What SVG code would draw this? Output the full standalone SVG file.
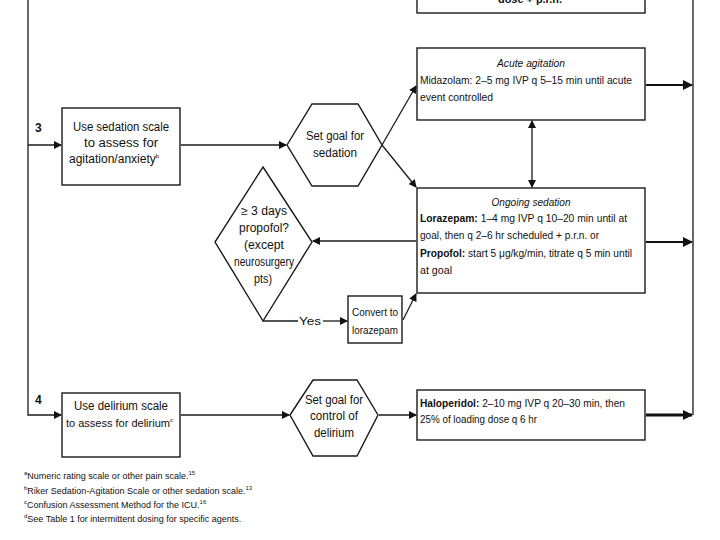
<svg xmlns="http://www.w3.org/2000/svg" width="720" height="540" viewBox="0 0 720 540">
<style>
.bg{fill:#fff}
.box{fill:#fff;stroke:#1a1a1a;stroke-width:1.4}
.t{font-family:"Liberation Sans",Arial,sans-serif;font-size:12px;fill:#111}
.s{font-family:"Liberation Sans",Arial,sans-serif;font-size:11px;fill:#111}
.c{text-anchor:middle}
.i{font-style:italic}
.b{font-weight:bold}
.ln{fill:none;stroke:#1a1a1a;stroke-width:1.3}
.th{fill:none;stroke:#111;stroke-width:2}
.fn{font-family:"Liberation Sans",Arial,sans-serif;font-size:9px;fill:#111}
.sp{font-size:6px}
</style>
<defs>
<marker id="ah" markerWidth="8" markerHeight="8" refX="7" refY="4" orient="auto" markerUnits="userSpaceOnUse">
<path d="M0,0 L8,4 L0,8 Z" fill="#111"/>
</marker>
<marker id="ahs" markerWidth="8" markerHeight="8" refX="1" refY="4" orient="auto" markerUnits="userSpaceOnUse">
<path d="M8,0 L0,4 L8,8 Z" fill="#111"/>
</marker>
<marker id="ahb" markerWidth="10" markerHeight="10" refX="9" refY="5" orient="auto" markerUnits="userSpaceOnUse">
<path d="M0,0 L10,5 L0,10 Z" fill="#111"/>
</marker>
</defs>
<rect class="bg" x="0" y="0" width="720" height="540"/>

<g id="connectors">
<path class="ln" d="M28,0 V415 H61" marker-end="url(#ah)"/>
<path class="ln" d="M28,145 H61" marker-end="url(#ah)"/>
<path class="ln" d="M693,0 V415"/>
<path class="ln" d="M181,145 H286" marker-end="url(#ah)"/>
<path class="ln" d="M382,145 L416,86" marker-end="url(#ah)"/>
<path class="ln" d="M382,145 L416,187" marker-end="url(#ah)"/>
<path class="ln" d="M532,121 V187" marker-start="url(#ahs)" marker-end="url(#ah)"/>
<path class="th" d="M646,85 H692" marker-end="url(#ahb)"/>
<path class="th" d="M646,242 H692" marker-end="url(#ahb)"/>
<path class="ln" d="M416,241 H313" marker-end="url(#ah)"/>
<path class="ln" d="M263,321 H298"/>
<path class="ln" d="M323,321 H347" marker-end="url(#ah)"/>
<text class="s c" x="310" y="325" textLength="22" lengthAdjust="spacingAndGlyphs">Yes</text>
<path class="ln" d="M403,320 L416,294" marker-end="url(#ah)"/>
<path class="ln" d="M181,415 H289" marker-end="url(#ah)"/>
<path class="ln" d="M379,415 H416" marker-end="url(#ah)"/>
<path d="M646,415 H692" fill="none" stroke="#111" stroke-width="3" marker-end="url(#ahb)"/>
</g>

<g id="top-box">
<rect class="box" x="417" y="-20" width="228" height="33"/>
<text class="s c b" x="530" y="3" textLength="64" lengthAdjust="spacingAndGlyphs">dose + p.r.n.</text>
</g>

<g id="label-3"><text class="t b" x="35" y="132">3</text></g>
<g id="label-4"><text class="t b" x="35" y="404">4</text></g>

<g id="sedation-scale">
<rect class="box" x="62" y="108" width="118" height="77"/>
<text class="t c" x="121" y="131" textLength="96" lengthAdjust="spacingAndGlyphs">Use sedation scale</text>
<text class="t c" x="121" y="147" textLength="74" lengthAdjust="spacingAndGlyphs">to assess for</text>
<text class="t" x="69" y="163">agitation/anxiety<tspan class="sp" dy="-5">b</tspan></text>
</g>

<g id="goal-sedation">
<polygon class="box" points="287,145 312,104 358,104 382,145 358,186 312,186"/>
<text class="t c" x="335" y="140" textLength="58" lengthAdjust="spacingAndGlyphs">Set goal for</text>
<text class="t c" x="335" y="157" textLength="44" lengthAdjust="spacingAndGlyphs">sedation</text>
</g>

<g id="acute-agitation">
<rect class="box" x="417" y="48" width="228" height="72"/>
<text class="s c i" x="531" y="67" textLength="68" lengthAdjust="spacingAndGlyphs">Acute agitation</text>
<text class="s" x="420" y="84" textLength="212" lengthAdjust="spacingAndGlyphs">Midazolam: 2–5 mg IVP q 5–15 min until acute</text>
<text class="s" x="420" y="101" textLength="73" lengthAdjust="spacingAndGlyphs">event controlled</text>
</g>

<g id="ongoing-sedation">
<rect class="box" x="417" y="188" width="228" height="105"/>
<text class="s c i" x="531" y="206" textLength="79" lengthAdjust="spacingAndGlyphs">Ongoing sedation</text>
<text class="s" x="420" y="222" textLength="207" lengthAdjust="spacingAndGlyphs"><tspan class="b">Lorazepam:</tspan> 1–4 mg IVP q 10–20 min until at</text>
<text class="s" x="420" y="239" textLength="179" lengthAdjust="spacingAndGlyphs">goal, then q 2–6 hr scheduled + p.r.n. or</text>
<text class="s" x="420" y="257" textLength="212" lengthAdjust="spacingAndGlyphs"><tspan class="b">Propofol:</tspan> start 5 μg/kg/min, titrate q 5 min until</text>
<text class="s" x="420" y="274" textLength="32" lengthAdjust="spacingAndGlyphs">at goal</text>
</g>

<g id="propofol-decision">
<polygon class="box" points="263,167 312,242 263,321 215,242"/>
<text class="t c" x="264" y="215" textLength="46" lengthAdjust="spacingAndGlyphs">≥ 3 days</text>
<text class="t c" x="264" y="232" textLength="50" lengthAdjust="spacingAndGlyphs">propofol?</text>
<text class="t c" x="264" y="249" textLength="40" lengthAdjust="spacingAndGlyphs">(except</text>
<text class="t c" x="264" y="266" textLength="60" lengthAdjust="spacingAndGlyphs">neurosurgery</text>
<text class="t c" x="263" y="283" textLength="18" lengthAdjust="spacingAndGlyphs">pts)</text>
</g>

<g id="convert">
<rect class="box" x="348" y="296" width="54" height="47"/>
<text class="s c" x="375" y="316" textLength="46" lengthAdjust="spacingAndGlyphs">Convert to</text>
<text class="s c" x="375" y="334" textLength="46" lengthAdjust="spacingAndGlyphs">lorazepam</text>
</g>

<g id="delirium-scale">
<rect class="box" x="62" y="393" width="118" height="64"/>
<text class="t c" x="121" y="410" textLength="94" lengthAdjust="spacingAndGlyphs">Use delirium scale</text>
<text class="s" x="66" y="427">to assess for delirium<tspan class="sp" dy="-5">c</tspan></text>
</g>

<g id="goal-delirium">
<polygon class="box" points="290,415 313,380 357,380 378,415 357,456 313,456"/>
<text class="t c" x="334" y="404" textLength="58" lengthAdjust="spacingAndGlyphs">Set goal for</text>
<text class="t c" x="334" y="420" textLength="48" lengthAdjust="spacingAndGlyphs">control of</text>
<text class="t c" x="334" y="437" textLength="40" lengthAdjust="spacingAndGlyphs">delirium</text>
</g>

<g id="haloperidol">
<rect class="box" x="417" y="390" width="228" height="50"/>
<text class="s" x="420" y="407" textLength="205" lengthAdjust="spacingAndGlyphs"><tspan class="b">Haloperidol:</tspan> 2–10 mg IVP q 20–30 min, then</text>
<text class="s" x="420" y="423" textLength="117" lengthAdjust="spacingAndGlyphs">25% of loading dose q 6 hr</text>
</g>

<g id="footnotes">
<text class="fn" x="24" y="479"><tspan class="sp" dy="-4">a</tspan><tspan dy="4">Numeric rating scale or other pain scale.</tspan><tspan class="sp" dy="-4">15</tspan></text>
<text class="fn" x="24" y="494"><tspan class="sp" dy="-4">b</tspan><tspan dy="4">Riker Sedation-Agitation Scale or other sedation scale.</tspan><tspan class="sp" dy="-4">13</tspan></text>
<text class="fn" x="24" y="508"><tspan class="sp" dy="-4">c</tspan><tspan dy="4">Confusion Assessment Method for the ICU.</tspan><tspan class="sp" dy="-4">16</tspan></text>
<text class="fn" x="24" y="522"><tspan class="sp" dy="-4">d</tspan><tspan dy="4">See Table 1 for intermittent dosing for specific agents.</tspan></text>
</g>
</svg>
